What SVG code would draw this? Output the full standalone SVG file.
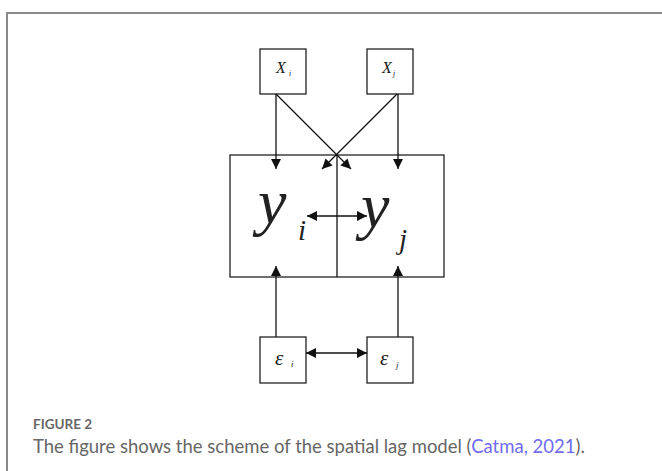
<svg xmlns="http://www.w3.org/2000/svg" width="662" height="471" viewBox="0 0 662 471">
<defs>
<marker id="ah" viewBox="0 0 10 10" refX="10" refY="5" markerWidth="10" markerHeight="10" markerUnits="userSpaceOnUse" orient="auto-start-reverse">
<path d="M0,0 L10,5 L0,10 z" fill="#111"/>
</marker>
<style>
.box{fill:#fff;stroke:#222;stroke-width:1.3}
.ln{stroke:#111;stroke-width:1.3;fill:none}
.m{font-family:"Liberation Serif","Times New Roman",serif;font-style:italic;fill:#222}
.cap{font-family:Lato,"Open Sans",sans-serif;fill:#666}
</style>
</defs>
<rect width="662" height="471" fill="#fff"/>
<path d="M7,471 V13 H662" fill="none" stroke="#8a8a8a" stroke-width="2"/>
<g id="Y">
<rect class="box" x="230" y="155" width="214" height="122"/>
<line class="ln" x1="337" y1="155" x2="337" y2="277"/>
<text class="m" x="258" y="223" font-size="64">y</text>
<text class="m" x="298" y="240" font-size="29">i</text>
<text class="m" x="361" y="227" font-size="64">y</text>
<text class="m" x="399" y="249" font-size="29">j</text>
</g>
<g id="Xi">
<rect class="box" x="260" y="49" width="46" height="45"/>
<text class="m" x="276" y="73" font-size="16">X</text>
<text class="m" x="289" y="76" font-size="8">i</text>
</g>
<g id="Xj">
<rect class="box" x="367" y="49" width="46" height="45"/>
<text class="m" x="382" y="73" font-size="16">X</text>
<text class="m" x="393" y="76" font-size="8">j</text>
</g>
<g id="ei">
<rect class="box" x="260" y="337" width="46" height="46"/>
<text class="m" x="275" y="365" font-size="21">ε</text>
<text class="m" x="291" y="367" font-size="9">i</text>
</g>
<g id="ej">
<rect class="box" x="367" y="337" width="46" height="46"/>
<text class="m" x="380" y="365" font-size="21">ε</text>
<text class="m" x="396" y="368" font-size="9">j</text>
</g>
<g id="connectors">
<line class="ln" x1="276" y1="94" x2="276" y2="169" marker-end="url(#ah)"/>
<line class="ln" x1="276" y1="94" x2="351" y2="169" marker-end="url(#ah)"/>
<line class="ln" x1="398" y1="94" x2="398" y2="169" marker-end="url(#ah)"/>
<line class="ln" x1="397" y1="94" x2="322" y2="169" marker-end="url(#ah)"/>
<line class="ln" x1="307" y1="216" x2="367" y2="216" marker-start="url(#ah)" marker-end="url(#ah)"/>
<line class="ln" x1="276" y1="337" x2="276" y2="266" marker-end="url(#ah)"/>
<line class="ln" x1="398" y1="337" x2="398" y2="266" marker-end="url(#ah)"/>
<line class="ln" x1="306" y1="353" x2="367" y2="353" marker-start="url(#ah)" marker-end="url(#ah)"/>
</g>
<text class="cap" x="33" y="429" font-size="13.5" font-weight="bold">FIGURE 2</text>
<text class="cap" x="33" y="453" font-size="18.5">The figure shows the scheme of the spatial lag model (<tspan fill="#6f6cf2">Catma, 2021</tspan>).</text>
</svg>
